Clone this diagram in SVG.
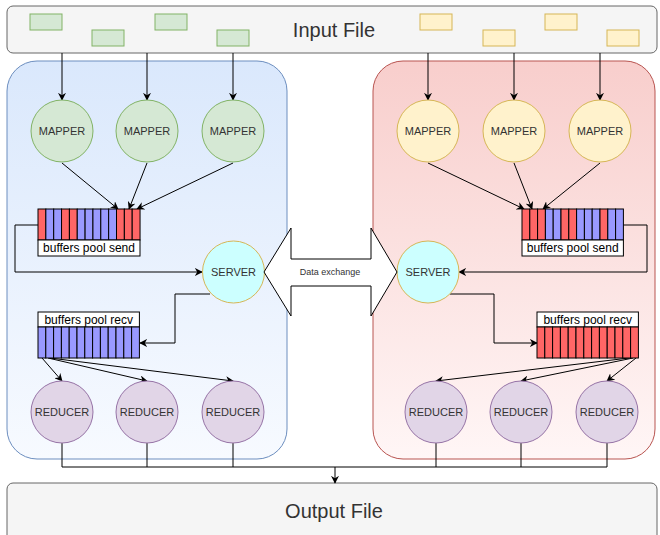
<svg xmlns="http://www.w3.org/2000/svg" width="660" height="535" viewBox="0 0 660 535">
<defs>
<linearGradient id="gBlue" x1="0" y1="0" x2="0" y2="1"><stop offset="0" stop-color="#dae8fc"/><stop offset="1" stop-color="#f7faff"/></linearGradient>
<linearGradient id="gRed" x1="0" y1="0" x2="0" y2="1"><stop offset="0" stop-color="#f8cecc"/><stop offset="1" stop-color="#fff6f6"/></linearGradient>
<marker id="arr" viewBox="0 0 10 10" refX="9" refY="5" markerWidth="8" markerHeight="8" markerUnits="userSpaceOnUse" orient="auto">
<path d="M0,0 L10,5 L0,10 L3,5 Z" fill="#000"/>
</marker>
<style>
text{font-family:"Liberation Sans",Arial,sans-serif;fill:#333;}
.file{fill:#f5f5f5;stroke:#666;stroke-width:1;}
.big{font-size:20px;text-anchor:middle;dominant-baseline:central;}
.gsm{fill:#d5e8d4;stroke:#82b366;}
.ysm{fill:#fff2cc;stroke:#d6b656;}
.map{fill:#d5e8d4;stroke:#82b366;}
.ymap{fill:#fff2cc;stroke:#d6b656;}
.red{fill:#e1d5e7;stroke:#9673a6;}
.srv{fill:#ccffff;stroke:#d6b656;}
.lbl{font-size:11px;text-anchor:middle;dominant-baseline:central;}
.c{stroke:#000;stroke-width:1;fill:none;}
.a{marker-end:url(#arr);}
.r{fill:#ff6666;stroke:#000;stroke-width:1;}
.b{fill:#9999ff;stroke:#000;stroke-width:1;}
.bl{fill:#fff;stroke:#000;stroke-width:1;}
.bt{font-size:12px;text-anchor:middle;dominant-baseline:central;fill:#000;}
</style>
</defs>

<g id="container-left"><rect x="7" y="61" width="280" height="398" rx="30" fill="url(#gBlue)" stroke="#6c8ebf"/></g>
<g id="container-right"><rect x="373" y="61" width="282" height="398" rx="30" fill="url(#gRed)" stroke="#b85450"/></g>

<g id="input-file">
<rect class="file" x="7" y="6" width="650" height="47" rx="6"/>
<text class="big" x="334" y="30">Input File</text>
<rect class="gsm" x="30" y="14" width="32" height="16"/>
<rect class="gsm" x="92" y="30" width="32" height="16"/>
<rect class="gsm" x="155" y="14" width="32" height="16"/>
<rect class="gsm" x="217" y="30" width="32" height="16"/>
<rect class="ysm" x="420" y="14" width="32" height="16"/>
<rect class="ysm" x="483" y="30" width="32" height="16"/>
<rect class="ysm" x="545" y="14" width="32" height="16"/>
<rect class="ysm" x="607" y="30" width="32" height="16"/>
</g>

<g id="output-file">
<rect class="file" x="7" y="483" width="650" height="60" rx="6"/>
<text class="big" x="334" y="511">Output File</text>
</g>

<g id="connectors">
<line class="c a" x1="62" y1="53" x2="62" y2="100"/>
<line class="c a" x1="147" y1="53" x2="147" y2="100"/>
<line class="c a" x1="233" y1="53" x2="233" y2="100"/>
<line class="c a" x1="428" y1="53" x2="428" y2="100"/>
<line class="c a" x1="514" y1="53" x2="514" y2="100"/>
<line class="c a" x1="600" y1="53" x2="600" y2="100"/>

<line class="c a" x1="62" y1="163" x2="118" y2="209"/>
<line class="c a" x1="147" y1="163" x2="129" y2="209"/>
<line class="c a" x1="233" y1="163" x2="137" y2="209"/>
<line class="c a" x1="428" y1="163" x2="524" y2="209"/>
<line class="c a" x1="514" y1="163" x2="532" y2="209"/>
<line class="c a" x1="600" y1="163" x2="543" y2="209"/>

<polyline class="c a" points="38,225 15,225 15,272 202,272"/>
<polyline class="c a" points="623,225 647,225 647,272 459,272"/>

<polyline class="c a" points="210,294 175,294 175,343 140,343"/>
<polyline class="c a" points="450,294 494,294 494,343 537,343"/>

<line class="c a" x1="42" y1="358" x2="62" y2="381"/>
<line class="c a" x1="48" y1="358" x2="147" y2="381"/>
<line class="c a" x1="50" y1="358" x2="233" y2="381"/>
<line class="c a" x1="629" y1="358" x2="436" y2="381"/>
<line class="c a" x1="633" y1="358" x2="521" y2="381"/>
<line class="c a" x1="636" y1="358" x2="607" y2="381"/>

<polyline class="c" points="62,443 62,467 607,467 607,443"/>
<line class="c" x1="147" y1="443" x2="147" y2="467"/>
<line class="c" x1="233" y1="443" x2="233" y2="467"/>
<line class="c" x1="436" y1="443" x2="436" y2="467"/>
<line class="c" x1="521" y1="443" x2="521" y2="467"/>
<line class="c a" x1="335" y1="467" x2="335" y2="483"/>
</g>

<g id="mapper-l1"><circle class="map" cx="62" cy="131" r="31"/><text class="lbl" x="62" y="131">MAPPER</text></g>
<g id="mapper-l2"><circle class="map" cx="147" cy="131" r="31"/><text class="lbl" x="147" y="131">MAPPER</text></g>
<g id="mapper-l3"><circle class="map" cx="233" cy="131" r="31"/><text class="lbl" x="233" y="131">MAPPER</text></g>
<g id="mapper-r1"><circle class="ymap" cx="428" cy="131" r="31"/><text class="lbl" x="428" y="131">MAPPER</text></g>
<g id="mapper-r2"><circle class="ymap" cx="514" cy="131" r="31"/><text class="lbl" x="514" y="131">MAPPER</text></g>
<g id="mapper-r3"><circle class="ymap" cx="600" cy="131" r="31"/><text class="lbl" x="600" y="131">MAPPER</text></g>

<g id="send-left">
<rect class="r" x="38" y="209" width="7.85" height="31"/>
<rect class="b" x="45.85" y="209" width="7.85" height="31"/>
<rect class="b" x="53.7" y="209" width="7.85" height="31"/>
<rect class="r" x="61.55" y="209" width="7.85" height="31"/>
<rect class="r" x="69.4" y="209" width="7.85" height="31"/>
<rect class="b" x="77.25" y="209" width="7.85" height="31"/>
<rect class="b" x="85.1" y="209" width="7.85" height="31"/>
<rect class="b" x="92.95" y="209" width="7.85" height="31"/>
<rect class="b" x="100.8" y="209" width="7.85" height="31"/>
<rect class="b" x="108.65" y="209" width="7.85" height="31"/>
<rect class="r" x="116.5" y="209" width="7.85" height="31"/>
<rect class="r" x="124.35" y="209" width="7.85" height="31"/>
<rect class="r" x="132.2" y="209" width="7.85" height="31"/>
<rect class="bl" x="38" y="240" width="102" height="16"/>
<text class="bt" x="89" y="248">buffers pool send</text>
</g>

<g id="send-right">
<rect class="r" x="522" y="209" width="7.8" height="31"/>
<rect class="r" x="529.8" y="209" width="7.8" height="31"/>
<rect class="r" x="537.6" y="209" width="7.8" height="31"/>
<rect class="b" x="545.4" y="209" width="7.8" height="31"/>
<rect class="b" x="553.2" y="209" width="7.8" height="31"/>
<rect class="r" x="561" y="209" width="7.8" height="31"/>
<rect class="r" x="568.8" y="209" width="7.8" height="31"/>
<rect class="b" x="576.6" y="209" width="7.8" height="31"/>
<rect class="b" x="584.4" y="209" width="7.8" height="31"/>
<rect class="b" x="592.2" y="209" width="7.8" height="31"/>
<rect class="r" x="600" y="209" width="7.8" height="31"/>
<rect class="b" x="607.8" y="209" width="7.8" height="31"/>
<rect class="b" x="615.6" y="209" width="7.8" height="31"/>
<rect class="bl" x="522" y="240" width="101.4" height="16"/>
<text class="bt" x="572.7" y="248">buffers pool send</text>
</g>

<g id="recv-left">
<rect class="bl" x="38" y="312" width="101.4" height="15"/>
<text class="bt" x="88.7" y="319.5">buffers pool recv</text>
<rect class="b" x="38" y="327" width="7.8" height="31"/>
<rect class="b" x="45.8" y="327" width="7.8" height="31"/>
<rect class="b" x="53.6" y="327" width="7.8" height="31"/>
<rect class="b" x="61.4" y="327" width="7.8" height="31"/>
<rect class="b" x="69.2" y="327" width="7.8" height="31"/>
<rect class="b" x="77" y="327" width="7.8" height="31"/>
<rect class="b" x="84.8" y="327" width="7.8" height="31"/>
<rect class="b" x="92.6" y="327" width="7.8" height="31"/>
<rect class="b" x="100.4" y="327" width="7.8" height="31"/>
<rect class="b" x="108.2" y="327" width="7.8" height="31"/>
<rect class="b" x="116" y="327" width="7.8" height="31"/>
<rect class="b" x="123.8" y="327" width="7.8" height="31"/>
<rect class="b" x="131.6" y="327" width="7.8" height="31"/>
</g>

<g id="recv-right">
<rect class="bl" x="537" y="312" width="101.4" height="15"/>
<text class="bt" x="587.7" y="319.5">buffers pool recv</text>
<rect class="r" x="537" y="327" width="7.8" height="31"/>
<rect class="r" x="544.8" y="327" width="7.8" height="31"/>
<rect class="r" x="552.6" y="327" width="7.8" height="31"/>
<rect class="r" x="560.4" y="327" width="7.8" height="31"/>
<rect class="r" x="568.2" y="327" width="7.8" height="31"/>
<rect class="r" x="576" y="327" width="7.8" height="31"/>
<rect class="r" x="583.8" y="327" width="7.8" height="31"/>
<rect class="r" x="591.6" y="327" width="7.8" height="31"/>
<rect class="r" x="599.4" y="327" width="7.8" height="31"/>
<rect class="r" x="607.2" y="327" width="7.8" height="31"/>
<rect class="r" x="615" y="327" width="7.8" height="31"/>
<rect class="r" x="622.8" y="327" width="7.8" height="31"/>
<rect class="r" x="630.6" y="327" width="7.8" height="31"/>
</g>

<g id="server-left"><circle class="srv" cx="233.5" cy="272" r="31"/><text class="lbl" x="233.5" y="272">SERVER</text></g>
<g id="server-right"><circle class="srv" cx="428" cy="272" r="31"/><text class="lbl" x="428" y="272">SERVER</text></g>

<g id="data-exchange">
<polygon points="264,272 291,228 291,259 371,259 371,228 397,272 371,316 371,286 291,286 291,316" fill="#fff" stroke="#000"/>
<text x="330" y="272" font-size="9" text-anchor="middle" dominant-baseline="central">Data exchange</text>
</g>

<g id="reducer-l1"><circle class="red" cx="62" cy="412" r="31"/><text class="lbl" x="62" y="412">REDUCER</text></g>
<g id="reducer-l2"><circle class="red" cx="147" cy="412" r="31"/><text class="lbl" x="147" y="412">REDUCER</text></g>
<g id="reducer-l3"><circle class="red" cx="233" cy="412" r="31"/><text class="lbl" x="233" y="412">REDUCER</text></g>
<g id="reducer-r1"><circle class="red" cx="436" cy="412" r="31"/><text class="lbl" x="436" y="412">REDUCER</text></g>
<g id="reducer-r2"><circle class="red" cx="521" cy="412" r="31"/><text class="lbl" x="521" y="412">REDUCER</text></g>
<g id="reducer-r3"><circle class="red" cx="607" cy="412" r="31"/><text class="lbl" x="607" y="412">REDUCER</text></g>
</svg>
